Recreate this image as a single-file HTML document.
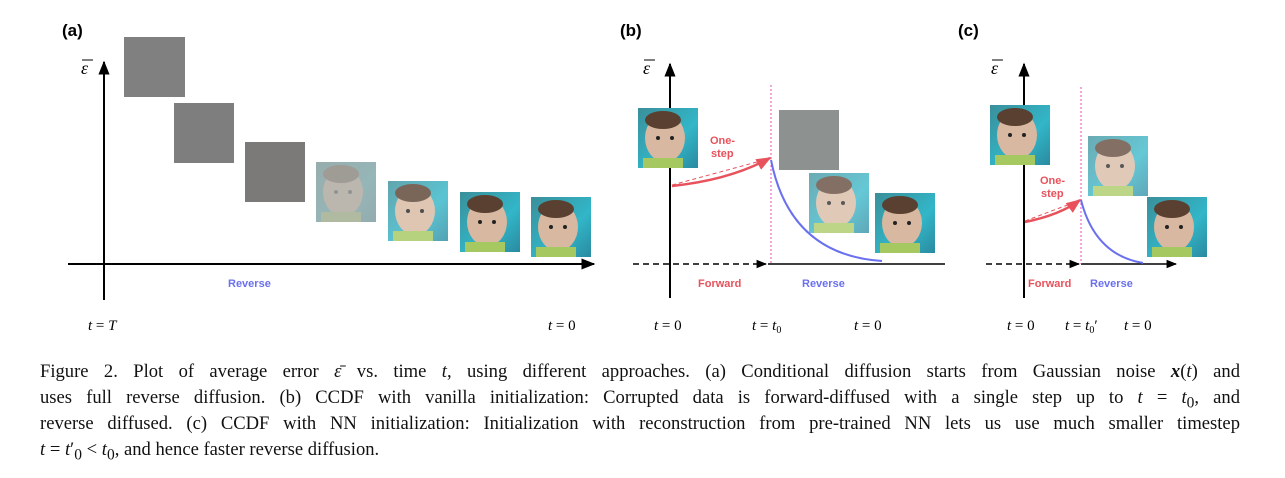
<!DOCTYPE html>
<html><head><meta charset="utf-8"><style>
body{margin:0;width:1285px;height:478px;background:#fff;overflow:hidden;position:relative;font-family:"Liberation Serif",serif}
svg{position:absolute;left:0;top:0}
.cap{position:absolute;left:40px;width:1200px;font-size:18.6px;color:#111;text-align:justify;text-align-last:justify;white-space:nowrap;line-height:26px}
.last{text-align-last:left}
</style></head><body>
<svg width="1285" height="350" font-family="Liberation Sans, sans-serif">
<defs>
<marker id="ar" viewBox="0 0 10 10" refX="9" refY="5" markerWidth="7" markerHeight="7" orient="auto"><path d="M0,1L10,5L0,9z" fill="#000"/></marker>
<marker id="arr" viewBox="0 0 10 10" refX="9" refY="5" markerWidth="6" markerHeight="6" orient="auto"><path d="M0,1L10,5L0,9z" fill="#e8525c"/></marker>
<linearGradient id="bg" x1="0" y1="0" x2="1" y2="1"><stop offset="0" stop-color="#3a8f9a"/><stop offset="0.6" stop-color="#32b6c8"/><stop offset="1" stop-color="#2a8aa0"/></linearGradient>
<g id="face"><rect width="60" height="60" fill="url(#bg)"/><ellipse cx="27" cy="30" rx="20" ry="24" fill="#d8b8a0"/><ellipse cx="25" cy="12" rx="18" ry="9" fill="#5a4030"/><rect x="5" y="50" width="40" height="10" fill="#a6c860"/><circle cx="20" cy="30" r="2" fill="#222"/><circle cx="34" cy="30" r="2" fill="#222"/></g>
</defs>
<g font-weight="bold" font-size="17" fill="#000"><text x="62" y="36">(a)</text><text x="620" y="36">(b)</text><text x="958" y="36">(c)</text></g>
<g font-family="Liberation Serif, serif" font-style="italic" font-size="18"><text x="81" y="74">ε</text><line x1="82" y1="60" x2="93" y2="60" stroke="#000" stroke-width="1"/><text x="643" y="74">ε</text><line x1="644" y1="60" x2="655" y2="60" stroke="#000" stroke-width="1"/><text x="991" y="74">ε</text><line x1="992" y1="60" x2="1003" y2="60" stroke="#000" stroke-width="1"/></g>
<g>
<line x1="104" y1="300" x2="104" y2="62" stroke="#000" stroke-width="2" marker-end="url(#ar)"/>
<line x1="68" y1="264" x2="594" y2="264" stroke="#000" stroke-width="2" marker-end="url(#ar)"/>
<rect x="124" y="37" width="61" height="60" fill="#808080"/>
<rect x="174" y="103" width="60" height="60" fill="#7e7e7e"/>
<rect x="245" y="142" width="60" height="60" fill="#7c7a78"/>
<g transform="translate(316,162)" opacity="0.45"><use href="#face"/></g><rect x="316" y="162" width="60" height="60" fill="#8a8e8a" opacity="0.5"/>
<g transform="translate(388,181)" opacity="0.8"><use href="#face"/></g>
<g transform="translate(460,192)"><use href="#face"/></g>
<g transform="translate(531,197)"><use href="#face"/></g>
<text x="228" y="287" font-size="11" font-weight="bold" fill="#6a70ee">Reverse</text>
</g>
<g>
<line x1="670" y1="298" x2="670" y2="64" stroke="#000" stroke-width="2" marker-end="url(#ar)"/>
<line x1="633" y1="264" x2="766" y2="264" stroke="#000" stroke-width="1.5" stroke-dasharray="6,4" marker-end="url(#ar)"/>
<line x1="768" y1="264" x2="945" y2="264" stroke="#000" stroke-width="1.5"/>
<line x1="771" y1="85" x2="771" y2="264" stroke="#e64cc0" stroke-width="1" stroke-dasharray="2,2"/>
<g transform="translate(638,108)"><use href="#face"/></g>
<rect x="779" y="110" width="60" height="60" fill="#8d9190"/>
<g transform="translate(809,173)" opacity="0.75"><use href="#face"/></g>
<g transform="translate(875,193)"><use href="#face"/></g>
<path d="M672,186 Q730,180 770,158" fill="none" stroke="#e8525c" stroke-width="2.5" marker-end="url(#arr)"/>
<line x1="672" y1="185" x2="768" y2="159" stroke="#e8525c" stroke-width="1" stroke-dasharray="4,3"/>
<path d="M771,160 Q790,255 882,261" fill="none" stroke="#6a70ee" stroke-width="2"/>
<text x="710" y="144" font-size="11" font-weight="bold" fill="#e8525c">One-</text><text x="711" y="157" font-size="11" font-weight="bold" fill="#e8525c">step</text>
<text x="698" y="287" font-size="11" font-weight="bold" fill="#e8525c">Forward</text>
<text x="802" y="287" font-size="11" font-weight="bold" fill="#6a70ee">Reverse</text>
</g>
<g>
<line x1="1024" y1="298" x2="1024" y2="64" stroke="#000" stroke-width="2" marker-end="url(#ar)"/>
<line x1="986" y1="264" x2="1079" y2="264" stroke="#000" stroke-width="1.5" stroke-dasharray="6,4" marker-end="url(#ar)"/>
<line x1="1081" y1="264" x2="1176" y2="264" stroke="#000" stroke-width="1.5" marker-end="url(#ar)"/>
<line x1="1081" y1="87" x2="1081" y2="264" stroke="#e64cc0" stroke-width="1" stroke-dasharray="2,2"/>
<g transform="translate(990,105)"><use href="#face"/></g>
<g transform="translate(1088,136)" opacity="0.75"><use href="#face"/></g>
<g transform="translate(1147,197)"><use href="#face"/></g>
<path d="M1025,222 Q1060,215 1080,200" fill="none" stroke="#e8525c" stroke-width="2.5" marker-end="url(#arr)"/>
<line x1="1025" y1="221" x2="1078" y2="201" stroke="#e8525c" stroke-width="1" stroke-dasharray="4,3"/>
<path d="M1081,200 Q1095,255 1143,263" fill="none" stroke="#6a70ee" stroke-width="2"/>
<text x="1040" y="184" font-size="11" font-weight="bold" fill="#e8525c">One-</text><text x="1041" y="197" font-size="11" font-weight="bold" fill="#e8525c">step</text>
<text x="1028" y="287" font-size="11" font-weight="bold" fill="#e8525c">Forward</text>
<text x="1090" y="287" font-size="11" font-weight="bold" fill="#6a70ee">Reverse</text>
</g>
<g font-family="Liberation Serif, serif" font-size="15" fill="#000">
<text x="88" y="330"><tspan font-style="italic">t</tspan> = <tspan font-style="italic">T</tspan></text>
<text x="548" y="330"><tspan font-style="italic">t</tspan> = 0</text>
<text x="654" y="330"><tspan font-style="italic">t</tspan> = 0</text>
<text x="752" y="330"><tspan font-style="italic">t</tspan> = <tspan font-style="italic">t</tspan><tspan font-size="10" dy="3">0</tspan></text>
<text x="854" y="330"><tspan font-style="italic">t</tspan> = 0</text>
<text x="1007" y="330"><tspan font-style="italic">t</tspan> = 0</text>
<text x="1065" y="330"><tspan font-style="italic">t</tspan> = <tspan font-style="italic">t</tspan><tspan font-size="10" dy="3">0</tspan><tspan dy="-3">′</tspan></text>
<text x="1124" y="330"><tspan font-style="italic">t</tspan> = 0</text>
</g>
</svg>
<div class="cap" style="top:359px">Figure 2. Plot of average error <i>ε̄</i> vs. time <i>t</i>, using different approaches. (a) Conditional diffusion starts from Gaussian noise <b><i>x</i></b>(<i>t</i>) and</div>
<div class="cap" style="top:385px">uses full reverse diffusion. (b) CCDF with vanilla initialization: Corrupted data is forward-diffused with a single step up to <i>t</i> = <i>t</i><sub>0</sub>, and</div>
<div class="cap" style="top:411px">reverse diffused. (c) CCDF with NN initialization: Initialization with reconstruction from pre-trained NN lets us use much smaller timestep</div>
<div class="cap last" style="top:437px"><i>t</i> = <i>t</i>′<sub>0</sub> &lt; <i>t</i><sub>0</sub>, and hence faster reverse diffusion.</div>
</body></html>
